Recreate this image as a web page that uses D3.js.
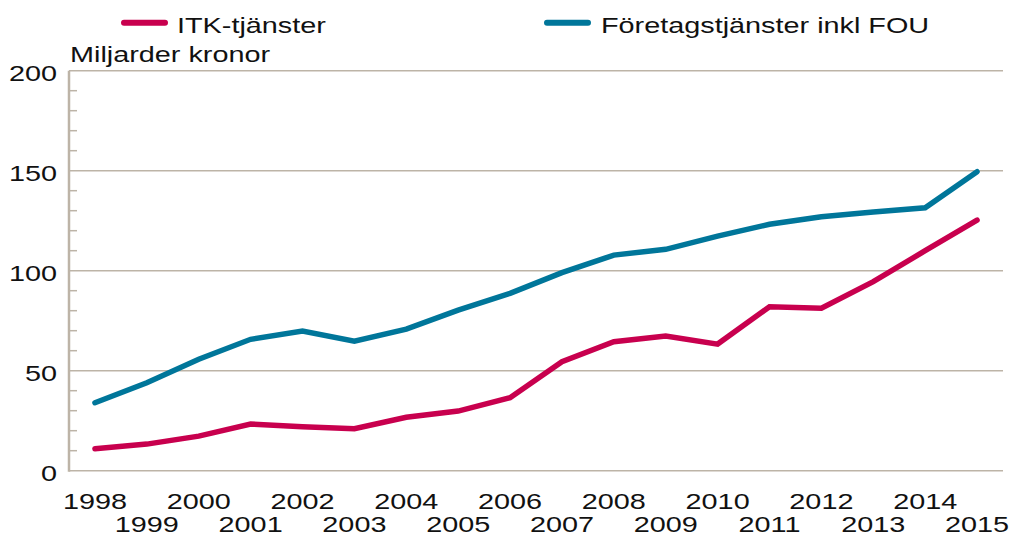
<!DOCTYPE html>
<html>
<head>
<meta charset="utf-8">
<script src="https://cdn.jsdelivr.net/npm/d3@7"></script>
<style>
  html, body { margin: 0; padding: 0; background: #fff; }
  svg { display: block; }
  text { font-family: "Liberation Sans", Arial, sans-serif; fill: #111; }
</style>
</head>
<body>
<svg id="chart" width="1013" height="534"></svg>
<script>
const years = [1998,1999,2000,2001,2002,2003,2004,2005,2006,2007,2008,2009,2010,2011,2012,2013,2014,2015];
const itk = [11,13.3,17.3,23.3,22,21,26.7,29.8,36.5,54.5,64.5,67.3,63.3,82,81.2,94.5,110,125.3];
const foretag = [34,44,55.7,65.7,69.8,64.7,70.8,80.3,88.7,99,107.8,110.7,117.3,123.2,127,129.3,131.5,149.5];
const yMajorTicks = [0,50,100,150,200];
const yMinorTicks = [10,20,30,40,60,70,80,90,110,120,130,140,160,170,180,190];
const seriesNames = ["ITK-tjänster", "Företagstjänster inkl FOU"];
const unitLabel = "Miljarder kronor";

(function () {
const colors = ["#c8004e", "#00769a"];
const gridColor = "#bdb4a7";
const SX = 1.31;
const FS = 22;

const svg = d3.select("#chart");
const pLeft = 69, pRight = 1003, pTop = 70.7, pBottom = 470.7;

const x = d3.scaleBand().domain(years).range([pLeft, pRight]);
const y = d3.scaleLinear().domain([0, 200]).range([pBottom, pTop]);
const cx = d => x(d) + x.bandwidth() / 2;

function stext(g, str, px, py, anchor) {
  return g.append("text")
    .attr("transform", `translate(${px},${py}) scale(${SX},1)`)
    .attr("text-anchor", anchor || "start")
    .style("font-size", FS + "px")
    .text(str);
}

// gridlines
svg.append("g").selectAll("line").data(yMajorTicks).join("line")
  .attr("x1", pLeft).attr("x2", pRight)
  .attr("y1", d => y(d)).attr("y2", d => y(d))
  .attr("stroke", gridColor).attr("stroke-width", 1.5);

// minor ticks
svg.append("g").selectAll("line").data(yMinorTicks).join("line")
  .attr("x1", pLeft).attr("x2", pLeft + 8)
  .attr("y1", d => y(d)).attr("y2", d => y(d))
  .attr("stroke", gridColor).attr("stroke-width", 1.5);

// y axis line
svg.append("line").attr("x1", pLeft).attr("x2", pLeft)
  .attr("y1", pTop).attr("y2", pBottom + 1)
  .attr("stroke", gridColor).attr("stroke-width", 2.5);

// y tick labels
const yl = svg.append("g");
yMajorTicks.forEach(t => stext(yl, String(t), 57, y(t) + 10.5, "end"));

// unit label
stext(svg, unitLabel, 70, 62, "start");

// x labels
const xl = svg.append("g");
years.forEach((yr, i) => {
  stext(xl, String(yr), cx(yr), i % 2 === 0 ? 509 : 532, "middle");
});

// lines
const line = d3.line().x((d, i) => cx(years[i])).y(d => y(d));
[itk, foretag].forEach((s, i) => {
  svg.append("path").datum(s)
    .attr("d", line)
    .attr("fill", "none")
    .attr("stroke", colors[i])
    .attr("stroke-width", 5.5)
    .attr("stroke-linecap", "round")
    .attr("stroke-linejoin", "miter");
});

// legend
const legendPos = [{x1: 124, x2: 165, tx: 177}, {x1: 547, x2: 588, tx: 601}];
seriesNames.forEach((n, i) => {
  const p = legendPos[i];
  svg.append("line").attr("x1", p.x1).attr("x2", p.x2).attr("y1", 22.7).attr("y2", 22.7)
    .attr("stroke", colors[i]).attr("stroke-width", 6).attr("stroke-linecap", "round");
  stext(svg, n, p.tx, 33, "start");
});
})();
</script>
</body>
</html>
